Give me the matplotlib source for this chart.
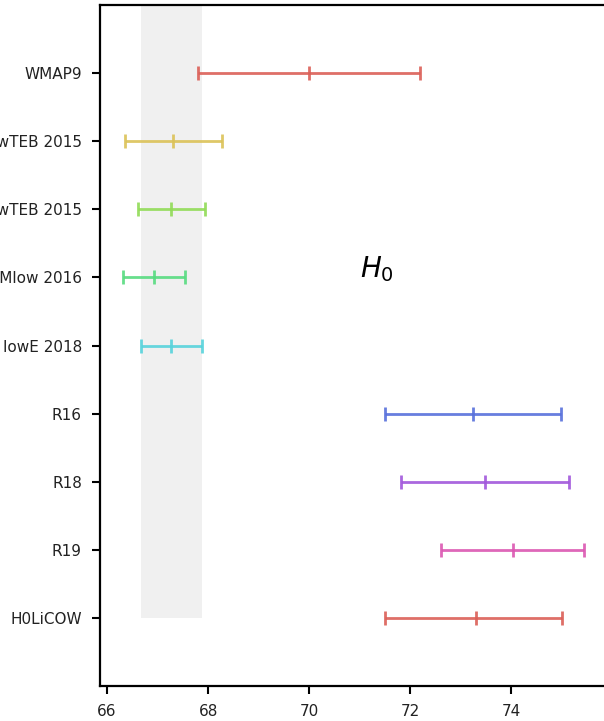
import numpy as np
import matplotlib
matplotlib.use("Agg")
import matplotlib.pyplot as plt

# H0 measurements, bottom (y=0) to top (y=8)
labels = ["H0LiCOW", "R19", "R18", "R16",
          "Planck TT,TE,EE lowE 2018", "Planck TT+SIMlow 2016",
          "Planck TT,TE,EE+lowTEB 2015", "Planck TT+lowTEB 2015", "WMAP9"]
h0 = [73.3, 74.03, 73.48, 73.24, 67.27, 66.93, 67.27, 67.31, 70.0]
err_lo = [1.8, 1.42, 1.66, 1.74, 0.60, 0.62, 0.66, 0.96, 2.2]
err_hi = [1.7, 1.42, 1.66, 1.74, 0.60, 0.62, 0.66, 0.96, 2.2]
colors = ["#db5f57", "#db57b2", "#a157db", "#5770db", "#57d3db",
          "#57db80", "#91db57", "#dbc257", "#db5f57"]

# Planck 2018 band
band_lo, band_hi = 66.67, 67.87

fig = plt.figure(figsize=(6.04, 7.21), dpi=100)
ax = fig.add_axes([0.1656, 0.0485, 0.8386, 0.9445])

ypos = np.arange(len(labels))
ax.fill_betweenx([0, 9], band_lo, band_hi, color="#f0f0f0", lw=0, zorder=0)

for y, v, lo, hi, c in zip(ypos, h0, err_lo, err_hi, colors):
    ax.errorbar(v, y, xerr=[[lo], [hi]], fmt="|", color=c, ms=10, mew=2,
                elinewidth=2, capsize=5, capthick=2, alpha=0.9)

ax.text(71, 5, "$H_0$", fontsize=20)

ax.set_yticks(ypos)
ax.set_yticklabels(labels)
ax.set_xticks([66, 68, 70, 72, 74])
ax.set_xlim(65.86, 75.89)
ax.set_ylim(-1, 9)

for s in ax.spines.values():
    s.set_linewidth(1.6)
ax.tick_params(axis="both", length=6, width=1.5, pad=7, labelsize=11, colors="black")
ax.tick_params(axis="both", labelcolor="#222222")

fig.savefig("out.png", dpi=100)
